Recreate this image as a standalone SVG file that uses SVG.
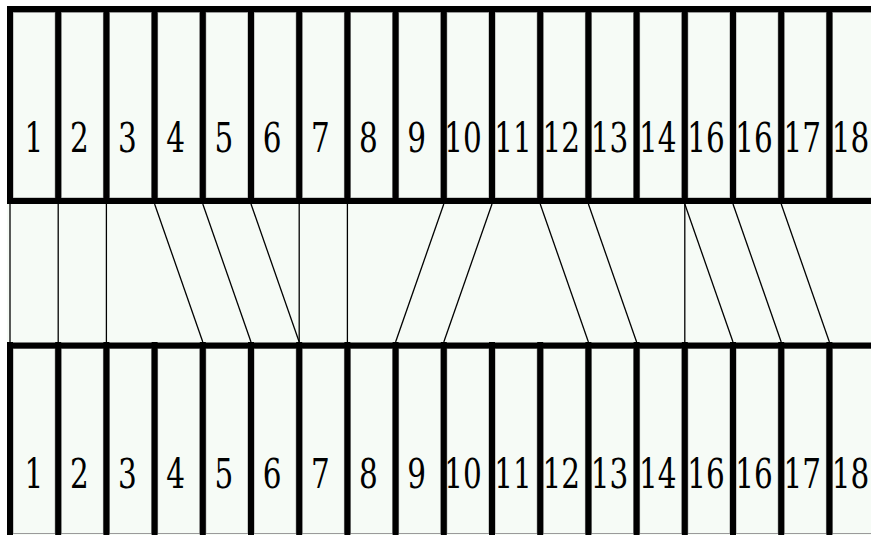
<svg xmlns="http://www.w3.org/2000/svg" width="871" height="535" viewBox="0 0 871 535">
<style>
.bg{fill:#f6fbf6}
.cell{fill:#f6fbf6;stroke:#9a9a9a;stroke-width:1}
.thick{stroke:#000;stroke-width:6;fill:none}
.thin{stroke:#000;stroke-width:1.3;fill:none}
.lbl{font-family:"DejaVu Serif","Liberation Serif",serif;font-size:41px;fill:#000;text-anchor:middle}
</style>
<rect x="0" y="0" width="871" height="535" fill="#ffffff"/>
<rect class="bg" x="7" y="6" width="864" height="529"/>
<g id="top-row">
<rect class="cell" x="13" y="12.5" width="42.2" height="185.5"/>
<rect class="cell" x="61.2" y="12.5" width="42.2" height="185.5"/>
<rect class="cell" x="109.4" y="12.5" width="42.2" height="185.5"/>
<rect class="cell" x="157.6" y="12.5" width="42.2" height="185.5"/>
<rect class="cell" x="205.8" y="12.5" width="42.2" height="185.5"/>
<rect class="cell" x="254" y="12.5" width="42.2" height="185.5"/>
<rect class="cell" x="302.2" y="12.5" width="42.2" height="185.5"/>
<rect class="cell" x="350.4" y="12.5" width="42.2" height="185.5"/>
<rect class="cell" x="398.6" y="12.5" width="42.2" height="185.5"/>
<rect class="cell" x="446.8" y="12.5" width="42.2" height="185.5"/>
<rect class="cell" x="495" y="12.5" width="42.2" height="185.5"/>
<rect class="cell" x="543.2" y="12.5" width="42.2" height="185.5"/>
<rect class="cell" x="591.4" y="12.5" width="42.2" height="185.5"/>
<rect class="cell" x="639.6" y="12.5" width="42.2" height="185.5"/>
<rect class="cell" x="687.8" y="12.5" width="42.2" height="185.5"/>
<rect class="cell" x="736" y="12.5" width="42.2" height="185.5"/>
<rect class="cell" x="784.2" y="12.5" width="42.2" height="185.5"/>
<rect class="cell" x="832.4" y="12.5" width="40" height="185.5"/>
<path class="thick" d="M7,9H871M7,201H871M10,6V204M58.2,6V204M106.4,6V204M154.6,6V204M202.8,6V204M251,6V204M299.2,6V204M347.4,6V204M395.6,6V204M443.8,6V204M492,6V204M540.2,6V204M588.4,6V204M636.6,6V204M684.8,6V204M733,6V204M781.2,6V204M829.4,6V204"/>
<g class="lbl">
<text transform="translate(34,152) scale(0.72,1)">1</text>
<text transform="translate(79.3,152) scale(0.72,1)">2</text>
<text transform="translate(127.5,152) scale(0.72,1)">3</text>
<text transform="translate(175.7,152) scale(0.72,1)">4</text>
<text transform="translate(223.9,152) scale(0.72,1)">5</text>
<text transform="translate(272.1,152) scale(0.72,1)">6</text>
<text transform="translate(320.3,152) scale(0.72,1)">7</text>
<text transform="translate(368.5,152) scale(0.72,1)">8</text>
<text transform="translate(416.7,152) scale(0.72,1)">9</text>
<text transform="translate(463,152) scale(0.72,1)">10</text>
<text transform="translate(513,152) scale(0.72,1)">11</text>
<text transform="translate(561.3,152) scale(0.72,1)">12</text>
<text transform="translate(609.5,152) scale(0.72,1)">13</text>
<text transform="translate(657.7,152) scale(0.72,1)">14</text>
<text transform="translate(705.9,152) scale(0.72,1)">16</text>
<text transform="translate(754.1,152) scale(0.72,1)">16</text>
<text transform="translate(802.3,152) scale(0.72,1)">17</text>
<text transform="translate(850.5,152) scale(0.72,1)">18</text>
</g>
</g>
<g id="bottom-row">
<rect class="cell" x="13" y="348.5" width="42.2" height="185"/>
<rect class="cell" x="61.2" y="348.5" width="42.2" height="185"/>
<rect class="cell" x="109.4" y="348.5" width="42.2" height="185"/>
<rect class="cell" x="157.6" y="348.5" width="42.2" height="185"/>
<rect class="cell" x="205.8" y="348.5" width="42.2" height="185"/>
<rect class="cell" x="254" y="348.5" width="42.2" height="185"/>
<rect class="cell" x="302.2" y="348.5" width="42.2" height="185"/>
<rect class="cell" x="350.4" y="348.5" width="42.2" height="185"/>
<rect class="cell" x="398.6" y="348.5" width="42.2" height="185"/>
<rect class="cell" x="446.8" y="348.5" width="42.2" height="185"/>
<rect class="cell" x="495" y="348.5" width="42.2" height="185"/>
<rect class="cell" x="543.2" y="348.5" width="42.2" height="185"/>
<rect class="cell" x="591.4" y="348.5" width="42.2" height="185"/>
<rect class="cell" x="639.6" y="348.5" width="42.2" height="185"/>
<rect class="cell" x="687.8" y="348.5" width="42.2" height="185"/>
<rect class="cell" x="736" y="348.5" width="42.2" height="185"/>
<rect class="cell" x="784.2" y="348.5" width="42.2" height="185"/>
<rect class="cell" x="832.4" y="348.5" width="40" height="185"/>
<path class="thick" d="M7,345.5H871M10,342V535M58.2,342V535M106.4,342V535M154.6,342V535M202.8,342V535M251,342V535M299.2,342V535M347.4,342V535M395.6,342V535M443.8,342V535M492,342V535M540.2,342V535M588.4,342V535M636.6,342V535M684.8,342V535M733,342V535M781.2,342V535M829.4,342V535"/>
<g class="lbl">
<text transform="translate(34,488) scale(0.72,1)">1</text>
<text transform="translate(79.3,488) scale(0.72,1)">2</text>
<text transform="translate(127.5,488) scale(0.72,1)">3</text>
<text transform="translate(175.7,488) scale(0.72,1)">4</text>
<text transform="translate(223.9,488) scale(0.72,1)">5</text>
<text transform="translate(272.1,488) scale(0.72,1)">6</text>
<text transform="translate(320.3,488) scale(0.72,1)">7</text>
<text transform="translate(368.5,488) scale(0.72,1)">8</text>
<text transform="translate(416.7,488) scale(0.72,1)">9</text>
<text transform="translate(463,488) scale(0.72,1)">10</text>
<text transform="translate(513,488) scale(0.72,1)">11</text>
<text transform="translate(561.3,488) scale(0.72,1)">12</text>
<text transform="translate(609.5,488) scale(0.72,1)">13</text>
<text transform="translate(657.7,488) scale(0.72,1)">14</text>
<text transform="translate(705.9,488) scale(0.72,1)">16</text>
<text transform="translate(754.1,488) scale(0.72,1)">16</text>
<text transform="translate(802.3,488) scale(0.72,1)">17</text>
<text transform="translate(850.5,488) scale(0.72,1)">18</text>
</g>
</g>
<g id="connectors" class="thin">
<line x1="10" y1="204" x2="10" y2="342"/>
<line x1="58.2" y1="204" x2="58.2" y2="342"/>
<line x1="106.4" y1="204" x2="106.4" y2="342"/>
<line x1="154.6" y1="204" x2="202.8" y2="342"/>
<line x1="202.8" y1="204" x2="251" y2="342"/>
<line x1="251" y1="204" x2="299.2" y2="342"/>
<line x1="299.2" y1="204" x2="299.2" y2="342"/>
<line x1="347.4" y1="204" x2="347.4" y2="342"/>
<line x1="443.8" y1="204" x2="395.6" y2="342"/>
<line x1="492" y1="204" x2="443.8" y2="342"/>
<line x1="540.2" y1="204" x2="588.4" y2="342"/>
<line x1="588.4" y1="204" x2="636.6" y2="342"/>
<line x1="684.8" y1="204" x2="684.8" y2="342"/>
<line x1="684.8" y1="204" x2="733" y2="342"/>
<line x1="733" y1="204" x2="781.2" y2="342"/>
<line x1="781.2" y1="204" x2="829.4" y2="342"/>
</g>
</svg>
